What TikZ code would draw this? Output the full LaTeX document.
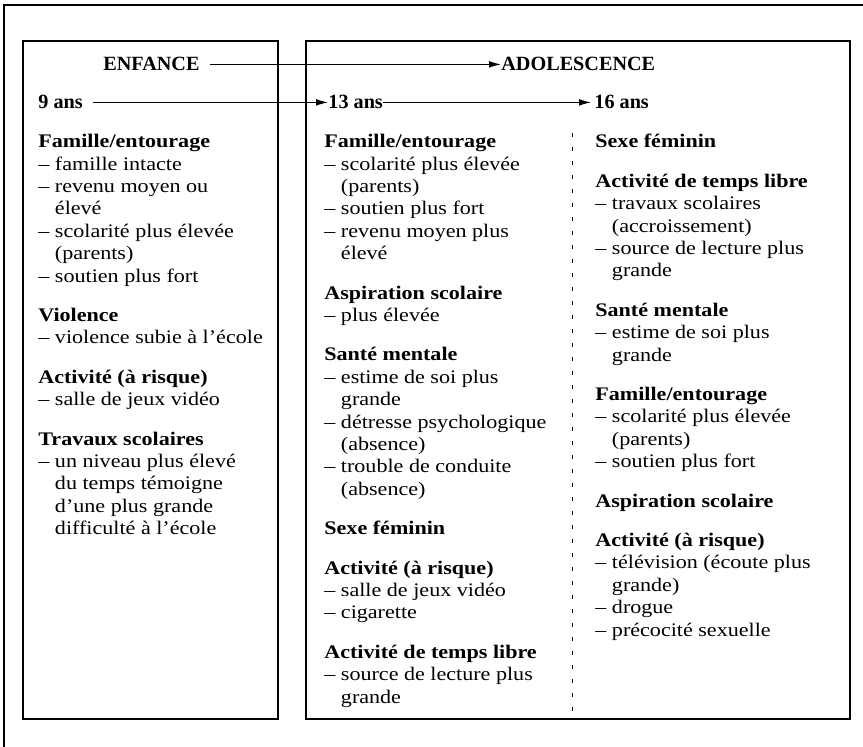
\documentclass[tikz,border=0pt]{standalone}
\usepackage{fontspec}
\setmainfont{Liberation Serif}
\newfontfamily\bodyfont[FakeStretch=1.15]{Liberation Serif}
\usetikzlibrary{arrows.meta}

\newcommand{\ind}{\phantom{–\ }}
\newcommand{\gap}{\\[8.5pt]}

\begin{document}
\begin{tikzpicture}[x=0.5pt,y=-0.5pt,
	box/.style = {draw, line width=0.8pt},
	stage/.style = {anchor=base west, inner xsep=0pt,
		font=\fontsize{10.1}{12}\selectfont\bfseries},
	col/.style = {anchor=north west, inner sep=0pt, align=left,
		font=\bodyfont\fontsize{9.6}{11.2}\selectfont},
	time/.style = {-{Latex[length=6pt,width=3.4pt]}, line width=0.6pt}]
	
	\useasboundingbox (0,0) rectangle (863,747);
	
	% Frame (top and left only)
	\draw[line width=1.2pt] (4,747) -- (4,5) -- (863,5);
	
	% Boxes
	\draw[box] (23,41) rectangle (278,719);
	\draw[box] (306,41) rectangle (850,719);
	\draw[line width=0.5pt, dash pattern=on 2pt off 5pt] (572,133) -- (572,712);
	
	% Stages
	\node[stage] (enf) at (103,71) {ENFANCE};
	\node[stage] (ado) at (501,71) {ADOLESCENCE};
	\draw[time, shorten <=5pt] (enf.east) -- (ado.west);
	
	% Ages
	\node[stage] (nine) at (38,109) {9 ans};
	\node[stage] (thirteen) at (328,109) {13 ans};
	\node[stage] (sixteen) at (594,109) {16 ans};
	\draw[time, shorten <=5pt] (nine.east) -- (thirteen.west);
	\draw[time, shorten >=1.5pt] (thirteen.east) -- (sixteen.west);
	
	% 9 ans
	\node[col] (c9) at (38,134) {\textbf{Famille/entourage}\\
		– famille intacte\\
		– revenu moyen ou\\
		\ind élevé\\
		– scolarité plus élevée\\
		\ind (parents)\\
		– soutien plus fort\gap
		\textbf{Violence}\\
		– violence subie à l’école\gap
		\textbf{Activité (à risque)}\\
		– salle de jeux vidéo\gap
		\textbf{Travaux scolaires}\\
		– un niveau plus élevé\\
		\ind du temps témoigne\\
		\ind d’une plus grande\\
		\ind difficulté à l’école};
	
	% 13 ans
	\node[col] (c13) at (324,134) {\textbf{Famille/entourage}\\
		– scolarité plus élevée\\
		\ind (parents)\\
		– soutien plus fort\\
		– revenu moyen plus\\
		\ind élevé\gap
		\textbf{Aspiration scolaire}\\
		– plus élevée\gap
		\textbf{Santé mentale}\\
		– estime de soi plus\\
		\ind grande\\
		– détresse psychologique\\
		\ind (absence)\\
		– trouble de conduite\\
		\ind (absence)\gap
		\textbf{Sexe féminin}\gap
		\textbf{Activité (à risque)}\\
		– salle de jeux vidéo\\
		– cigarette\gap
		\textbf{Activité de temps libre}\\
		– source de lecture plus\\
		\ind grande};
	
	% 16 ans
	\node[col] (c16) at (595,134) {\textbf{Sexe féminin}\gap
		\textbf{Activité de temps libre}\\
		– travaux scolaires\\
		\ind (accroissement)\\
		– source de lecture plus\\
		\ind grande\gap
		\textbf{Santé mentale}\\
		– estime de soi plus\\
		\ind grande\gap
		\textbf{Famille/entourage}\\
		– scolarité plus élevée\\
		\ind (parents)\\
		– soutien plus fort\gap
		\textbf{Aspiration scolaire}\gap
		\textbf{Activité (à risque)}\\
		– télévision (écoute plus\\
		\ind grande)\\
		– drogue\\
		– précocité sexuelle};
	
\end{tikzpicture}
\end{document}
